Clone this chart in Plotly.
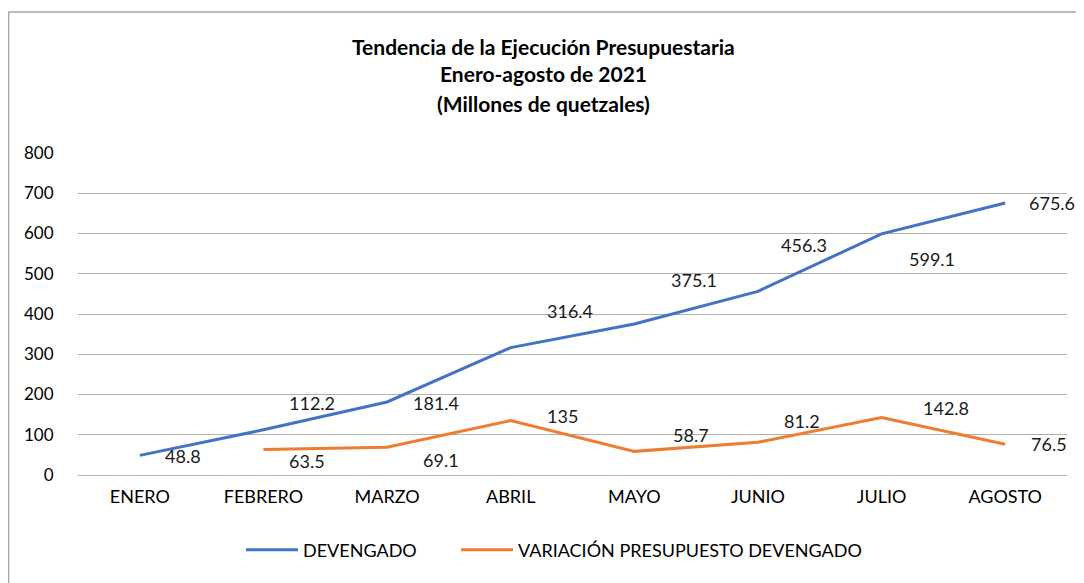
import plotly.graph_objects as go

months = ["ENERO", "FEBRERO", "MARZO", "ABRIL", "MAYO", "JUNIO", "JULIO", "AGOSTO"]
devengado = [48.8, 112.2, 181.4, 316.4, 375.1, 456.3, 599.1, 675.6]
variacion = [None, 63.5, 69.1, 135, 58.7, 81.2, 142.8, 76.5]
y_ticks = [0, 100, 200, 300, 400, 500, 600, 700, 800]

title_lines = ["Tendencia de la Ejecución Presupuestaria",
               "Enero-agosto de 2021",
               "(Millones de quetzales)"]

BLUE = "#4472C4"
ORANGE = "#ED7D31"
FONT = "Lato"
TXT = "#1a1a1a"

# label placement offsets (style only): (xshift, yshift) in px, text left-anchored
dev_off = [(23, -1), (24, 27), (24, -1), (34, 37), (35, 44), (21, 46), (25, -25), (22, 0)]
var_off = [None, (24, -12), (34, -13), (34, 5), (37, 16), (24, 21), (39, 10), (24, 0)]

# page offset: the html body has an 8px margin
OFF = 8
W, H = 1084 - OFF, 583 - OFF
L, R, T, B = 78 - OFF, 17, 153 - OFF, 108
pw, ph = W - L - R, H - T - B


def px_x(px):
    return (px - OFF - L) / pw


def px_y(py):
    return (H - B - (py - OFF)) / ph


fig = go.Figure()
fig.add_trace(go.Scatter(x=months, y=devengado, mode="lines", name="DEVENGADO",
                         line=dict(color=BLUE, width=3), legend="legend"))
fig.add_trace(go.Scatter(x=months, y=variacion, mode="lines",
                         name="VARIACIÓN PRESUPUESTO DEVENGADO",
                         line=dict(color=ORANGE, width=3), legend="legend2"))

ann = []
for m, v, o in zip(months, devengado, dev_off):
    ann.append(dict(x=m, y=v, text=f"{v:g}", showarrow=False, xanchor="left",
                    yanchor="middle", xshift=o[0], yshift=o[1],
                    font=dict(family=FONT, size=18, color=TXT)))
for m, v, o in zip(months, variacion, var_off):
    if v is None:
        continue
    ann.append(dict(x=m, y=v, text=f"{v:g}", showarrow=False, xanchor="left",
                    yanchor="middle", xshift=o[0], yshift=o[1],
                    font=dict(family=FONT, size=18, color=TXT)))

for line, py in zip(title_lines, [47, 74, 103]):
    ann.append(dict(xref="paper", yref="paper", x=px_x(543), y=px_y(py),
                    text=f"<b>{line}</b>", showarrow=False, xanchor="center",
                    yanchor="middle", font=dict(family=FONT, size=21, color="#000")))

leg_common = dict(orientation="h", xanchor="left", yanchor="middle", y=px_y(550),
                  font=dict(family=FONT, size=18, color="#000"), itemwidth=52,
                  bgcolor="rgba(0,0,0,0)")

fig.update_layout(
    width=W, height=H,
    margin=dict(l=L, r=R, t=T, b=B, autoexpand=False),
    paper_bgcolor="white", plot_bgcolor="white",
    font=dict(family=FONT, size=17, color=TXT),
    showlegend=True,
    legend=dict(x=px_x(241), **leg_common),
    legend2=dict(x=px_x(456), **leg_common),
    annotations=ann,
    shapes=[dict(type="rect", xref="paper", yref="paper",
                 x0=px_x(8.7), x1=px_x(1100), y0=px_y(600), y1=px_y(12),
                 line=dict(color="#a6a6a6", width=1.3), fillcolor="rgba(0,0,0,0)",
                 layer="below")],
    xaxis=dict(type="category", categoryorder="array", categoryarray=months,
               range=[-0.5, 7.5], showgrid=False, showline=True, linecolor="#b0b0b0",
               linewidth=1, ticks="outside", ticklen=5, tickcolor="rgba(0,0,0,0)",
               tickfont=dict(family=FONT, size=18, color="#000"), zeroline=False,
               fixedrange=True),
    yaxis=dict(range=[0, 800], tickvals=y_ticks, showgrid=True, gridcolor="#b0b0b0",
               gridwidth=1, zeroline=False, showline=False,
               ticks="outside", ticklen=20, tickcolor="rgba(0,0,0,0)",
               tickfont=dict(family=FONT, size=17, color="#000"), fixedrange=True),
)

fig.write_html("out.html")
